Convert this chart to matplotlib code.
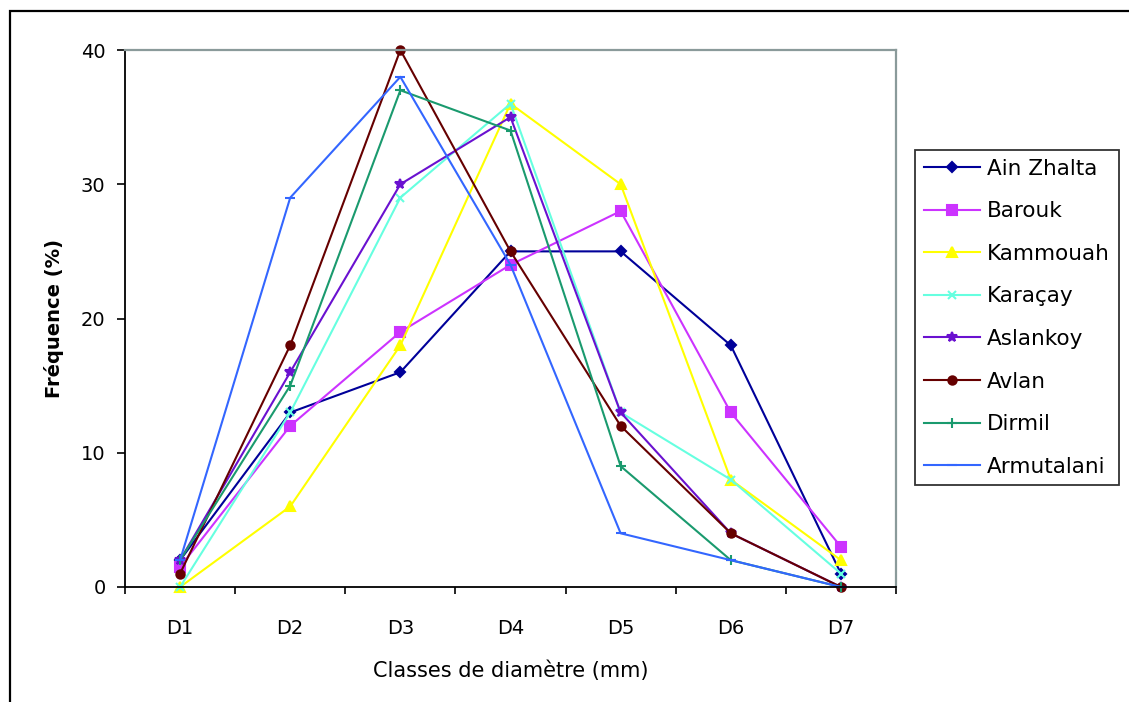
import matplotlib
matplotlib.use("Agg")
import matplotlib.pyplot as plt
from matplotlib.patches import Rectangle
from matplotlib.ticker import FixedLocator

# diameter classes and frequency (%) per site
classes = ["D1", "D2", "D3", "D4", "D5", "D6", "D7"]
sites = ["Ain Zhalta", "Barouk", "Kammouah", "Karaçay",
         "Aslankoy", "Avlan", "Dirmil", "Armutalani"]
ain_zhalta = [2, 13, 16, 25, 25, 18, 1]
barouk = [1.5, 12, 19, 24, 28, 13, 3]
kammouah = [0, 6, 18, 36, 30, 8, 2]
karacay = [0, 13, 29, 36, 13, 8, 1]
aslankoy = [2, 16, 30, 35, 13, 4, 0]
avlan = [1, 18, 40, 25, 12, 4, 0]
dirmil = [2, 15, 37, 34, 9, 2, 0]
armutalani = [2, 29, 38, 24, 4, 2, 0]
series = [ain_zhalta, barouk, kammouah, karacay, aslankoy, avlan, dirmil, armutalani]

colors = ["#000099", "#cc33ff", "#ffff00", "#66ffe0",
          "#6a11d0", "#660000", "#1a9a6e", "#3366ff"]
markers = ["D", "s", "^", "x", "*", "o", "+", "_"]
msizes = [5, 7, 7, 6, 7, 6, 7, 7]

plt.rcParams["font.family"] = ["DejaVu Sans"]

fig = plt.figure(figsize=(11.29, 7.02), dpi=100)
ax = fig.add_axes([125 / 1129, 1 - 587 / 702, 771 / 1129, 537 / 702])

x = list(range(len(classes)))
for name, vals, c, m, ms in zip(sites, series, colors, markers, msizes):
    ax.plot(x, vals, color=c, marker=m, markersize=ms, linewidth=1.5,
            markeredgewidth=1.5, label=name, clip_on=False)

ax.set_xlim(-0.5, len(classes) - 0.5)
ax.set_ylim(0, 40)
ax.set_yticks([0, 10, 20, 30, 40])
ax.set_xticks(x)
ax.set_xticklabels(classes)
ax.xaxis.set_minor_locator(FixedLocator([i - 0.5 for i in range(len(classes) + 1)]))
ax.tick_params(axis="x", which="major", length=0, pad=23, labelsize=14)
ax.tick_params(axis="x", which="minor", length=5, width=1.2, direction="out")
ax.tick_params(axis="y", length=6, width=1.2, pad=8, labelsize=14)

for s in ["left", "bottom"]:
    ax.spines[s].set_color("black")
    ax.spines[s].set_linewidth(1.3)
for s in ["top", "right"]:
    ax.spines[s].set_color("#8a9a9a")
    ax.spines[s].set_linewidth(1.6)

ax.set_xlabel("Classes de diamètre (mm)", fontsize=15, labelpad=16)
ax.set_ylabel("Fréquence (%)", fontsize=14, fontweight="bold", labelpad=12)

leg = fig.legend(loc="upper left", bbox_to_anchor=(915 / 1129, 1 - 150 / 702),
                 fontsize=15.5, frameon=True, fancybox=False, edgecolor="black",
                 handlelength=2.6, handletextpad=0.35, labelspacing=1.05,
                 borderpad=0.4, borderaxespad=0)
leg.get_frame().set_linewidth(1.3)

# outer chart border, only top and left edges fall inside the image
fig.patches.append(Rectangle((10 / 1129, -0.1), 1.2, 1.1 - 11 / 702,
                             transform=fig.transFigure, fill=False,
                             edgecolor="black", linewidth=1.6))

fig.savefig("out.png", dpi=100)
